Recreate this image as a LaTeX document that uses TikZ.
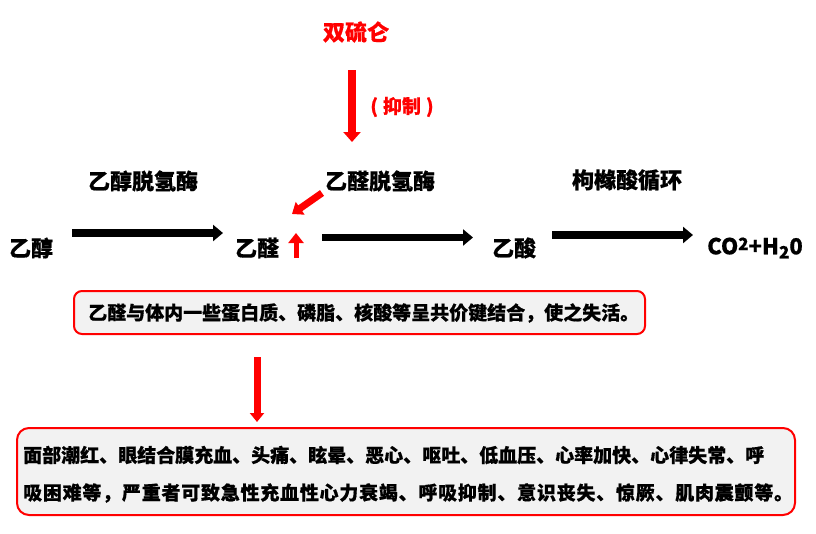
\documentclass[tikz,border=0pt]{standalone}
\usepackage{fontspec}
\setmainfont{Noto Sans CJK SC}[BoldFeatures={FakeBold=0.6}]
\usetikzlibrary{arrows.meta}
\definecolor{boxfill}{HTML}{F2F2F2}
\definecolor{myred}{HTML}{FF0000}
\begin{document}
\begin{tikzpicture}[x=1pt,y=-1pt,
  lbl/.style={inner sep=0pt, font=\fontsize{22}{24}\selectfont\bfseries, text=black},
  redlbl/.style={inner sep=0pt, font=\fontsize{22}{24}\selectfont\bfseries, text=myred},
  boxtxt/.style={inner sep=0pt, font=\fontsize{19}{22}\selectfont\bfseries, text=black, anchor=west},
  box/.style={draw=myred, fill=boxfill, line width=2pt, inner sep=0pt},
  blkarrow/.style={draw=black, line width=7.5pt, -{Triangle[width=16pt,length=10pt]}},
  redarrow/.style={draw=myred, line width=8pt, -{Triangle[width=17pt,length=10pt]}}
]
\useasboundingbox (0,0) rectangle (816,533);

% top
\node[redlbl] (dsl) at (356,32) {双硫仑};
\node[redlbl, font=\fontsize{19}{22}\selectfont\bfseries] (yz) at (402,107) {(\kern5pt 抑制\kern5pt)};
\coordinate (r1s) at (352,70);
\coordinate (r1e) at (352,142);
\draw[redarrow] (r1s) -- (r1e);

% enzyme labels
\node[lbl] (e1) at (143,181) {乙醇脱氢酶};
\node[lbl] (e2) at (380,181) {乙醛脱氢酶};
\node[lbl] (e3) at (627,180) {枸橼酸循环};

% compounds
\node[lbl] (c1) at (31,248) {乙醇};
\node[lbl] (c2) at (257,248) {乙醛};
\node[lbl] (c3) at (514,248) {乙酸};
\node[lbl] (c4) at (755,248) {CO\raisebox{0.35ex}{\fontsize{17}{17}\selectfont 2}+H\raisebox{-0.35ex}{\fontsize{17}{17}\selectfont 2}0};

% black arrows
\coordinate (a1s) at (72,233);
\coordinate (a1e) at (223,233);
\coordinate (a2s) at (322,237.5);
\coordinate (a2e) at (473,237.5);
\coordinate (a3s) at (552,235);
\coordinate (a3e) at (693,235);
\draw[blkarrow] (a1s) -- (a1e);
\draw[blkarrow] (a2s) -- (a2e);
\draw[blkarrow] (a3s) -- (a3e);

% red diagonal and up arrows
\coordinate (dgs) at (322,193);
\coordinate (dge) at (292,214);
\draw[draw=myred, line width=7pt, -{Triangle[width=15pt,length=10pt]}] (dgs) -- (dge);
\coordinate (ups) at (296,258);
\coordinate (upe) at (296,233);
\draw[draw=myred, line width=5pt, -{Triangle[width=15pt,length=10pt]}] (ups) -- (upe);

% middle box
\node[box, rounded corners=8pt, minimum width=571pt, minimum height=43pt] (mb) at (359.5,312.5) {};
\node[boxtxt, font=\fontsize{19}{22}\selectfont\bfseries] (mt) at (88,313) {乙醛与体内一些蛋白质、磷脂、核酸等呈共价键结合，使之失活。};

% red arrow down
\coordinate (r2s) at (257,357);
\coordinate (r2e) at (257,422);
\draw[draw=myred, line width=7pt, -{Triangle[width=14pt,length=9pt]}] (r2s) -- (r2e);

% bottom box
\node[box, rounded corners=12pt, minimum width=778pt, minimum height=87pt] (bb) at (406,471.5) {};
\node[boxtxt] (bt1) at (23,455) {面部潮红、眼结合膜充血、头痛、眩晕、恶心、呕吐、低血压、心率加快、心律失常、呼};
\node[boxtxt] (bt2) at (23,493) {\addfontfeatures{LetterSpace=4}吸困难等，严重者可致急性充血性心力衰竭、呼吸抑制、意识丧失、惊厥、肌肉震颤等。};
\end{tikzpicture}
\end{document}
